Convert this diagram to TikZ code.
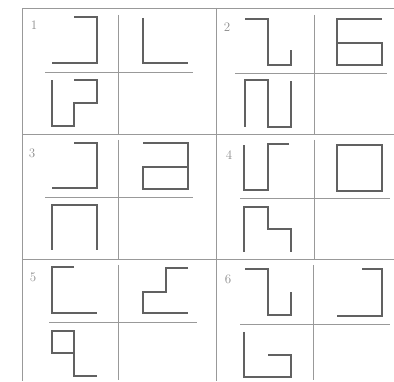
\documentclass[tikz,border=0pt]{standalone}
\usepackage{tikz}
\begin{document}
\begin{tikzpicture}[
    x=1pt, y=-1pt,
    gridline/.style={draw=black!40, line width=0.6pt},
    fig/.style={draw=black!62, line width=1.3pt},
    num/.style={font=\fontsize{13}{13}\selectfont, text=black!45, inner sep=0pt}
]
    \useasboundingbox (0,0) rectangle (394,382);

    % outer table
    \draw[gridline] (22,381) -- (22,8) -- (394,8);
    \draw[gridline] (22,134) -- (394,134);
    \draw[gridline] (22,259) -- (394,259);
    \draw[gridline] (216,8) -- (216,381);

    % cross inside each cell
    \foreach \vx/\ty/\by/\hy/\hl/\hr in {118/15/134/72/45/193, 314/15/134/73/235/387,
        118/140/259/197/45/193, 314/140/259/198/240/390,
        118/265/380/322/49/197, 313/265/380/324/240/390}
    {
        \draw[gridline] (\vx,\ty) -- (\vx,\by);
        \draw[gridline] (\hl,\hy) -- (\hr,\hy);
    }

    % cell numbers
    \node[num] (n1) at (34,25)  {1};
    \node[num] (n2) at (227,27) {2};
    \node[num] (n3) at (32,153) {3};
    \node[num] (n4) at (229,155) {4};
    \node[num] (n5) at (33,277) {5};
    \node[num] (n6) at (228,279) {6};

    % cell 1
    \draw[fig] (74,17) -- (97,17) -- (97,63) -- (52,63);
    \draw[fig] (143,18) -- (143,63) -- (188,63);
    \draw[fig] (74,80) -- (97,80) -- (97,103) -- (74,103) -- (74,126) -- (52,126) -- (52,80);

    % cell 2
    \draw[fig] (245,19) -- (268,19) -- (268,65) -- (291,65) -- (291,50);
    \draw[fig] (382,19) -- (337,19) -- (337,65) -- (382,65) -- (382,43) -- (337,43);
    \draw[fig] (245,127) -- (245,80) -- (268,80) -- (268,127) -- (291,127) -- (291,81);

    % cell 3
    \draw[fig] (74,143) -- (97,143) -- (97,188) -- (52,188);
    \draw[fig] (143,143) -- (188,143) -- (188,189) -- (143,189) -- (143,167) -- (188,167);
    \draw[fig] (52,250) -- (52,205) -- (97,205) -- (97,250);

    % cell 4
    \draw[fig] (289,144) -- (268,144) -- (268,190) -- (244,190) -- (244,145);
    \draw[fig] (337,145) rectangle (382,191);
    \draw[fig] (244,252) -- (244,207) -- (268,207) -- (268,229) -- (291,229) -- (291,252);

    % cell 5
    \draw[fig] (74,267) -- (52,267) -- (52,313) -- (97,313);
    \draw[fig] (188,268) -- (166,268) -- (166,292) -- (143,292) -- (143,313) -- (188,313);
    \draw[fig] (97,376) -- (74,376) -- (74,331) -- (52,331) -- (52,353) -- (74,353);

    % cell 6
    \draw[fig] (245,269) -- (268,269) -- (268,315) -- (291,315) -- (291,292);
    \draw[fig] (362,269) -- (382,269) -- (382,316) -- (337,316);
    \draw[fig] (244,332) -- (244,377) -- (291,377) -- (291,355) -- (268,355);
\end{tikzpicture}
\end{document}
